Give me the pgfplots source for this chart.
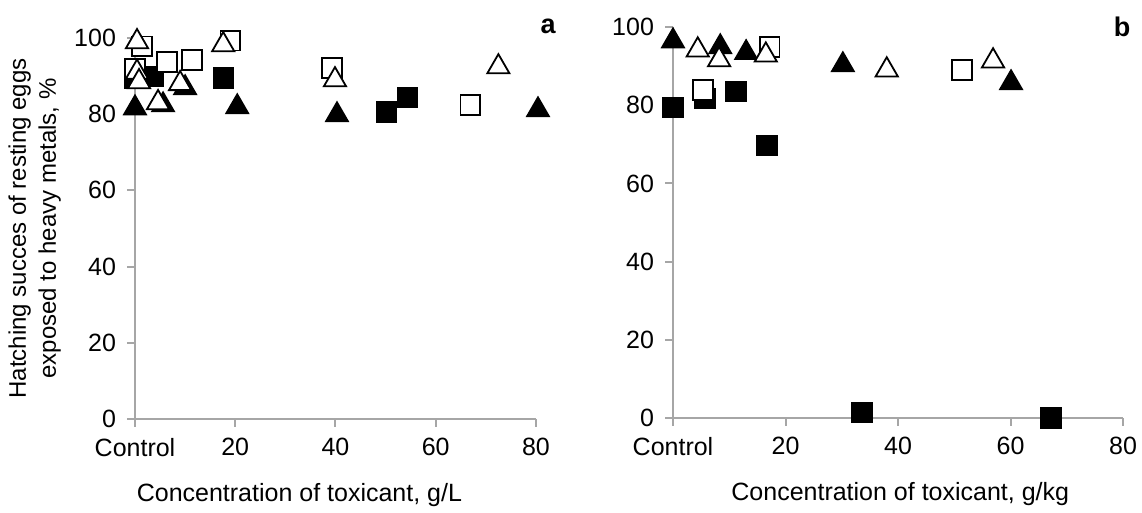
\documentclass[border=0pt]{standalone}
\usepackage{fontspec}
\setmainfont{Liberation Sans}
\usepackage{pgfplots}
\pgfplotsset{compat=1.18}
\definecolor{axgray}{RGB}{166,166,166}
\pgfplotsset{
 myax/.style={scale only axis, clip=false, xmin=0,xmax=80,ymin=0,ymax=100,
  font=\fontsize{12.5}{14}\selectfont,
  axis x line=bottom, axis y line=left,
  axis line style={-, draw=axgray, line width=1pt},
  xtick={0,20,40,60,80}, xticklabels={Control,20,40,60,80}, ytick={0,20,...,100},
  tick align=outside, major tick length=4pt,
  tick style={draw=axgray, line width=1pt},
  x tick label style={yshift=-2pt}, y tick label style={xshift=-2pt},
  /pgf/number format/assume math mode=true,
 },
 bsq/.style={only marks, mark=square*, mark size=4.9pt, mark options={fill=black, draw=black, line width=0.8pt}},
 osq/.style={only marks, mark=square*, mark size=4.9pt, mark options={fill=white, draw=black, line width=0.9pt}},
 btr/.style={only marks, mark=triangle*, mark size=6.4pt, mark options={fill=black, draw=black, line width=0.8pt}},
 otr/.style={only marks, mark=triangle*, mark size=6.4pt, mark options={fill=white, draw=black, line width=0.9pt}},
}
\begin{document}
\begin{tikzpicture}
\useasboundingbox (0,0) rectangle (571pt,256.5pt);
\begin{axis}[myax, at={(67.5pt,47pt)}, anchor=south west, width=200.5pt, height=190.5pt,
  xlabel={Concentration of toxicant, g/L},
  every axis x label/.style={at={(axis description cs:0.41,0)}, anchor=center, yshift=-38pt},
  ylabel={Hatching succes of resting eggs\\exposed to heavy metals, \%},
  every axis y label/.style={at={(axis description cs:-0.25,0.5)}, rotate=90, anchor=center, align=center, font=\fontsize{12}{15}\selectfont}]
\addplot[bsq] coordinates {(0,89.5) (3.6,89.8) (17.6,89.5) (50.1,80.6) (54.3,84.3)};
\addplot[btr] coordinates {(0,81.6) (5.6,82.4) (10,86.9) (20.4,81.9) (40.3,79.8) (80.4,81.1)};
\addplot[osq] coordinates {(1.4,97.8) (0,92) (6.4,93.7) (11.4,94.2) (19,99.3) (39.3,92.1) (66.9,82.4)};
\addplot[otr] coordinates {(0.4,99) (0.4,91) (0.8,88.5) (4.6,83) (9,88) (17.6,98.2) (39.9,89) (72.5,92.4)};
\node[font=\fontsize{13.5}{15}\selectfont\bfseries] at (axis description cs:1.03,1.03) {a};
\end{axis}
\begin{axis}[myax, at={(336.5pt,47.5pt)}, anchor=south west, width=225pt, height=195.5pt,
  xlabel={Concentration of toxicant, g/kg},
  every axis x label/.style={at={(axis description cs:0.505,0)}, anchor=center, yshift=-38pt}]
\addplot[bsq] coordinates {(0,79.5) (5.7,81.8) (11.2,83.6) (16.7,69.6) (33.6,1.4) (67.2,0)};
\addplot[btr] coordinates {(0,96.4) (8.4,94.9) (13,93.4) (30.2,90.3) (60.1,85.7)};
\addplot[osq] coordinates {(5.3,83.9) (17.2,94.9) (51.4,89)};
\addplot[otr] coordinates {(4.4,94.1) (8.2,91.6) (16.5,92.8) (38,89) (56.9,91.3)};
\node[font=\fontsize{13.5}{15}\selectfont\bfseries] at (axis description cs:0.998,1.0) {b};
\end{axis}
\end{tikzpicture}
\end{document}
